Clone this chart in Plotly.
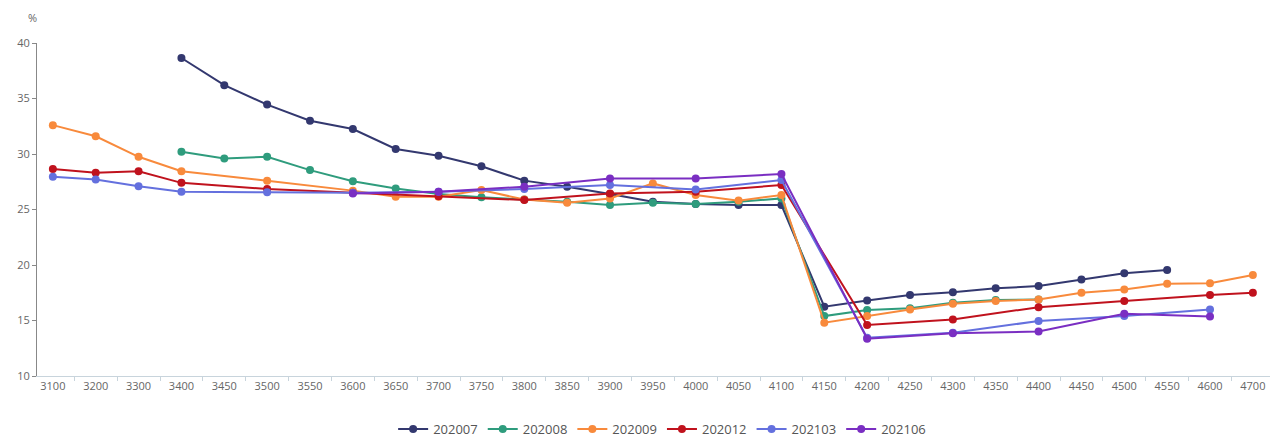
import plotly.graph_objects as go

categories = ["3100", "3200", "3300", "3400", "3450", "3500", "3550", "3600", "3650", "3700",
              "3750", "3800", "3850", "3900", "3950", "4000", "4050", "4100", "4150", "4200",
              "4250", "4300", "4350", "4400", "4450", "4500", "4550", "4600", "4700"]

s202007 = [None, None, None, 38.65, 36.2, 34.45, 33.0, 32.25, 30.45, 29.85,
           28.9, 27.6, 27.05, 26.4, 25.7, 25.5, 25.4, 25.4, 16.25, 16.8,
           17.3, 17.55, 17.9, 18.1, 18.7, 19.25, 19.55, None, None]
s202008 = [None, None, None, 30.2, 29.6, 29.75, 28.55, 27.55, 26.9, 26.4,
           26.1, 25.9, 25.7, 25.4, 25.6, 25.5, 25.7, 26.0, 15.4, 15.95,
           16.1, 16.6, 16.85, 16.9, None, None, None, None, None]
s202009 = [32.6, 31.6, 29.75, 28.45, None, 27.6, None, 26.7, 26.15, 26.15,
           26.75, 25.9, 25.6, 26.0, 27.35, 26.3, 25.8, 26.3, 14.8, 15.4,
           16.0, 16.5, 16.75, 16.9, 17.5, 17.8, 18.3, 18.35, 19.1]
s202012 = [28.65, 28.3, 28.45, 27.4, None, 26.85, None, 26.5, None, 26.2,
           None, 25.85, None, 26.45, None, 26.6, None, 27.2, None, 14.6,
           None, 15.1, None, 16.2, None, 16.75, None, 17.3, 17.5]
s202103 = [27.95, 27.7, 27.1, 26.6, None, 26.55, None, 26.5, None, 26.6,
           None, 26.85, None, 27.2, None, 26.8, None, 27.65, None, 13.45,
           None, 13.9, None, 14.95, None, 15.4, None, 16.0, None]
s202106 = [None, None, None, None, None, None, None, 26.45, None, 26.6,
           None, 27.05, None, 27.8, None, 27.8, None, 28.2, None, 13.35,
           None, 13.85, None, 14.0, None, 15.6, None, 15.35, None]

series_names = ["202007", "202008", "202009", "202012", "202103", "202106"]
series_values = [s202007, s202008, s202009, s202012, s202103, s202106]
colors = ["#33386f", "#2f9c7d", "#f88a3c", "#c0121d", "#6470de", "#7a2ec2"]

fig = go.Figure()
for name, vals, col in zip(series_names, series_values, colors):
    fig.add_trace(go.Scatter(
        x=categories, y=vals, name=name, mode="lines+markers",
        connectgaps=True,
        line=dict(color=col, width=2),
        marker=dict(color=col, size=8),
    ))

fig.update_layout(
    width=1279, height=437,
    margin=dict(l=37, r=9, t=43, b=61, autoexpand=False),
    paper_bgcolor="white", plot_bgcolor="white",
    font=dict(family="Open Sans, DejaVu Sans, sans-serif", size=11, color="#666"),
    showlegend=True,
    legend=dict(orientation="h", x=0.507, xanchor="center",
                yref="container", y=1 - 429 / 437, yanchor="middle",
                font=dict(size=13, color="#555"), itemwidth=30, tracegroupgap=0),
    annotations=[dict(text="%", xref="paper", yref="paper", x=0, y=1.0,
                      xanchor="right", yanchor="bottom", yshift=16, xshift=2,
                      showarrow=False, font=dict(size=11, color="#666"))],
)
fig.update_xaxes(
    type="category", categoryorder="array", categoryarray=categories,
    range=[-0.37, 28.4], automargin=False,
    showline=True, linecolor="#c8d4dc", linewidth=1,
    ticks="outside", tickson="boundaries", ticklen=4, tickcolor="#c8d4dc",
    showgrid=False, zeroline=False,
    tickfont=dict(size=11, color="#666"),
)
fig.update_yaxes(
    range=[10, 40], dtick=5, automargin=False,
    showline=True, linecolor="#888", linewidth=1,
    ticks="outside", ticklen=4, tickcolor="#888",
    showgrid=False, zeroline=False,
    tickfont=dict(size=11, color="#666"),
)

fig.write_html("out.html", config={"displayModeBar": False},
               post_script="document.body.style.margin='0';document.body.style.padding='0';")
